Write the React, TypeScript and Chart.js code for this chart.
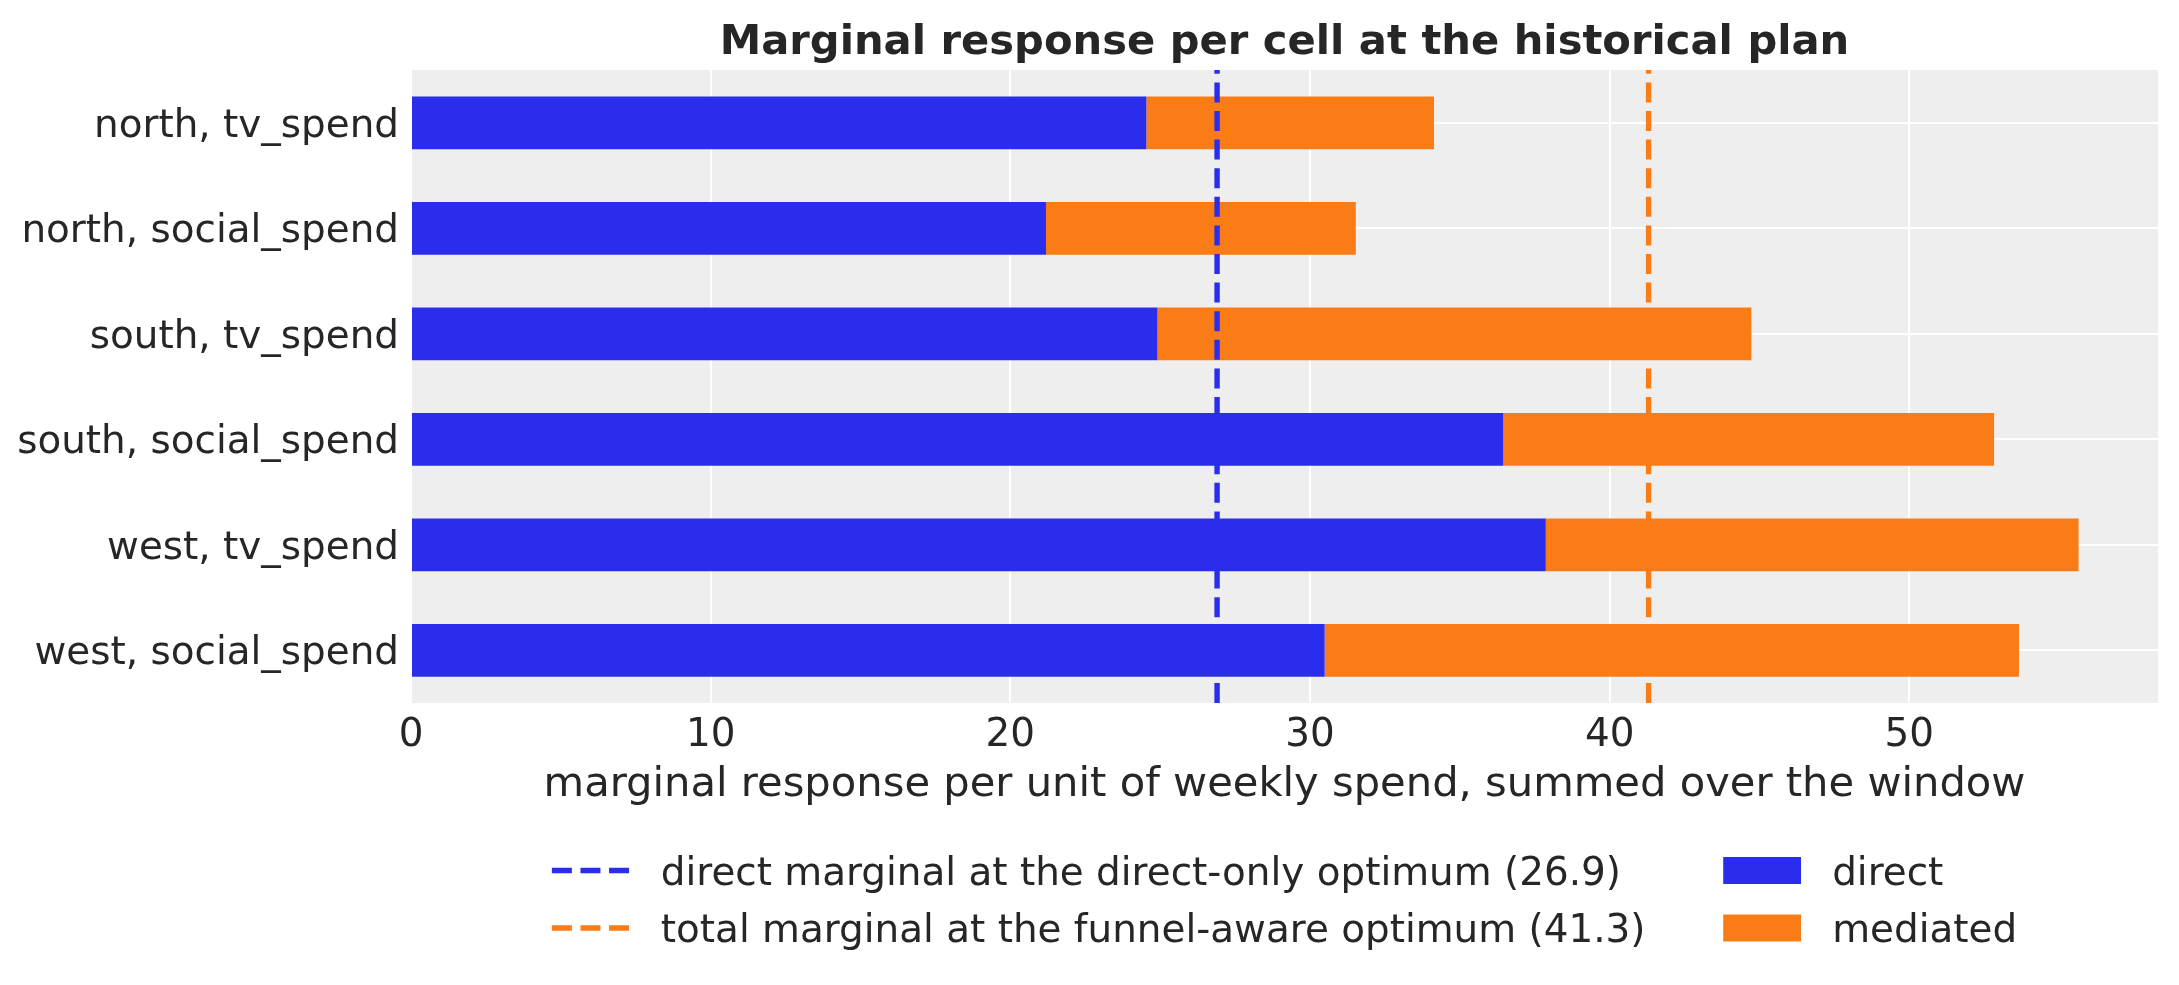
import { useEffect, useRef } from 'react';
import { Chart, registerables } from 'chart.js';

Chart.register(...registerables);

// data
const cells = [
  'north, tv_spend',
  'north, social_spend',
  'south, tv_spend',
  'south, social_spend',
  'west, tv_spend',
  'west, social_spend',
];
const directValues = [24.54, 21.19, 24.91, 36.45, 37.87, 30.49];
const mediatedValues = [9.6, 10.34, 19.82, 16.38, 17.78, 23.17];
const refValues = [26.9, 41.3];
const refLabels = [
  'direct marginal at the direct-only optimum (26.9)',
  'total marginal at the funnel-aware optimum (41.3)',
];
const barLabels = ['direct', 'mediated'];
const xTicks = [0, 10, 20, 30, 40, 50];

const BLUE = '#2a2eec';
const ORANGE = '#fa7c17';
const TEXT = '#262626';
const FONT = '"DejaVu Sans"';

const W = 2179;
const H = 985;

const backgroundPlugin = {
  id: 'panelBg',
  beforeDraw(chart: any) {
    const { ctx, chartArea } = chart;
    ctx.save();
    ctx.fillStyle = '#eeeeee';
    ctx.fillRect(chartArea.left, chartArea.top, chartArea.right - chartArea.left, chartArea.bottom - chartArea.top);
    ctx.restore();
  },
};

const refLinePlugin = {
  id: 'refLines',
  afterDatasetsDraw(chart: any) {
    const { ctx, chartArea, scales } = chart;
    const colors = [BLUE, ORANGE];
    ctx.save();
    refValues.forEach((v, i) => {
      const x = scales.x.getPixelForValue(v);
      ctx.strokeStyle = colors[i];
      ctx.lineWidth = 5.4;
      ctx.setLineDash([20, 8.6]);
      ctx.beginPath();
      ctx.moveTo(x, chartArea.bottom);
      ctx.lineTo(x, chartArea.top);
      ctx.stroke();
    });
    ctx.restore();
  },
};

const textPlugin = {
  id: 'texts',
  afterDraw(chart: any) {
    const { ctx, chartArea } = chart;
    const cx = (chartArea.left + chartArea.right) / 2;
    ctx.save();
    ctx.fillStyle = TEXT;
    ctx.textAlign = 'center';
    ctx.textBaseline = 'alphabetic';
    ctx.font = `bold 41.67px ${FONT}`;
    ctx.fillText('Marginal response per cell at the historical plan', cx, 54);
    ctx.font = `41.67px ${FONT}`;
    ctx.fillText('marginal response per unit of weekly spend, summed over the window', cx, 796);

    // legend, two columns like matplotlib (ncol=2)
    const fs = 38.9;
    ctx.font = `${fs}px ${FONT}`;
    const handle = 2 * fs;
    const pad = 0.8 * fs;
    const colGap = 2 * fs;
    const w1 = Math.max(...refLabels.map((t) => ctx.measureText(t).width));
    const w2 = Math.max(...barLabels.map((t) => ctx.measureText(t).width));
    const total = handle + pad + w1 + colGap + handle + pad + w2;
    const x1 = cx - total / 2;
    const x2 = x1 + handle + pad + w1 + colGap;
    const rows = [870.5, 928];
    const colors = [BLUE, ORANGE];
    ctx.textAlign = 'left';
    rows.forEach((y, i) => {
      ctx.strokeStyle = colors[i];
      ctx.lineWidth = 5.4;
      ctx.setLineDash([20, 8.6]);
      ctx.beginPath();
      ctx.moveTo(x1, y);
      ctx.lineTo(x1 + handle, y);
      ctx.stroke();
      ctx.setLineDash([]);
      ctx.fillStyle = TEXT;
      ctx.fillText(refLabels[i], x1 + handle + pad, y + 14);

      ctx.fillStyle = colors[i];
      ctx.fillRect(x2, y - 13.5, handle, 27);
      ctx.fillStyle = TEXT;
      ctx.fillText(barLabels[i], x2 + handle + pad, y + 14);
    });
    ctx.restore();
  },
};

export default function App() {
  const canvasRef = useRef<HTMLCanvasElement>(null);

  useEffect(() => {
    if (!canvasRef.current) return;
    const chart = new Chart(canvasRef.current, {
      type: 'bar',
      data: {
        labels: cells,
        datasets: [
          {
            label: barLabels[0],
            data: directValues,
            backgroundColor: BLUE,
            borderWidth: 0,
            barPercentage: 0.5,
            categoryPercentage: 1,
          },
          {
            label: barLabels[1],
            data: mediatedValues,
            backgroundColor: ORANGE,
            borderWidth: 0,
            barPercentage: 0.5,
            categoryPercentage: 1,
          },
        ],
      },
      options: {
        indexAxis: 'y',
        responsive: true,
        maintainAspectRatio: false,
        animation: false,
        layout: { padding: { top: 70, right: 21, bottom: 0, left: 0 } },
        scales: {
          x: {
            type: 'linear',
            stacked: true,
            min: 0,
            max: 58.3,
            afterBuildTicks: (scale: any) => {
              scale.ticks = xTicks.map((v) => ({ value: v }));
            },
            afterFit: (scale: any) => {
              scale.height = 282;
            },
            ticks: {
              color: TEXT,
              font: { family: 'DejaVu Sans', size: 38.9 },
              padding: 10,
            },
            grid: { color: '#ffffff', lineWidth: 2, drawTicks: false },
            border: { display: false },
          },
          y: {
            type: 'category',
            stacked: true,
            afterFit: (scale: any) => {
              scale.width = 411;
            },
            ticks: {
              color: TEXT,
              font: { family: 'DejaVu Sans', size: 38.9 },
              padding: 12,
              labelOffset: 4,
            },
            grid: { color: '#ffffff', lineWidth: 2, drawTicks: false, offset: false },
            border: { display: false },
          },
        },
        plugins: {
          legend: { display: false },
          tooltip: { enabled: false },
        },
      },
      plugins: [backgroundPlugin, refLinePlugin, textPlugin],
    });
    return () => {
      chart.destroy();
    };
  }, []);

  return (
    <div style={{ position: 'fixed', left: 0, top: 0, width: W, height: H, background: '#ffffff' }}>
      <canvas ref={canvasRef}></canvas>
    </div>
  );
}
